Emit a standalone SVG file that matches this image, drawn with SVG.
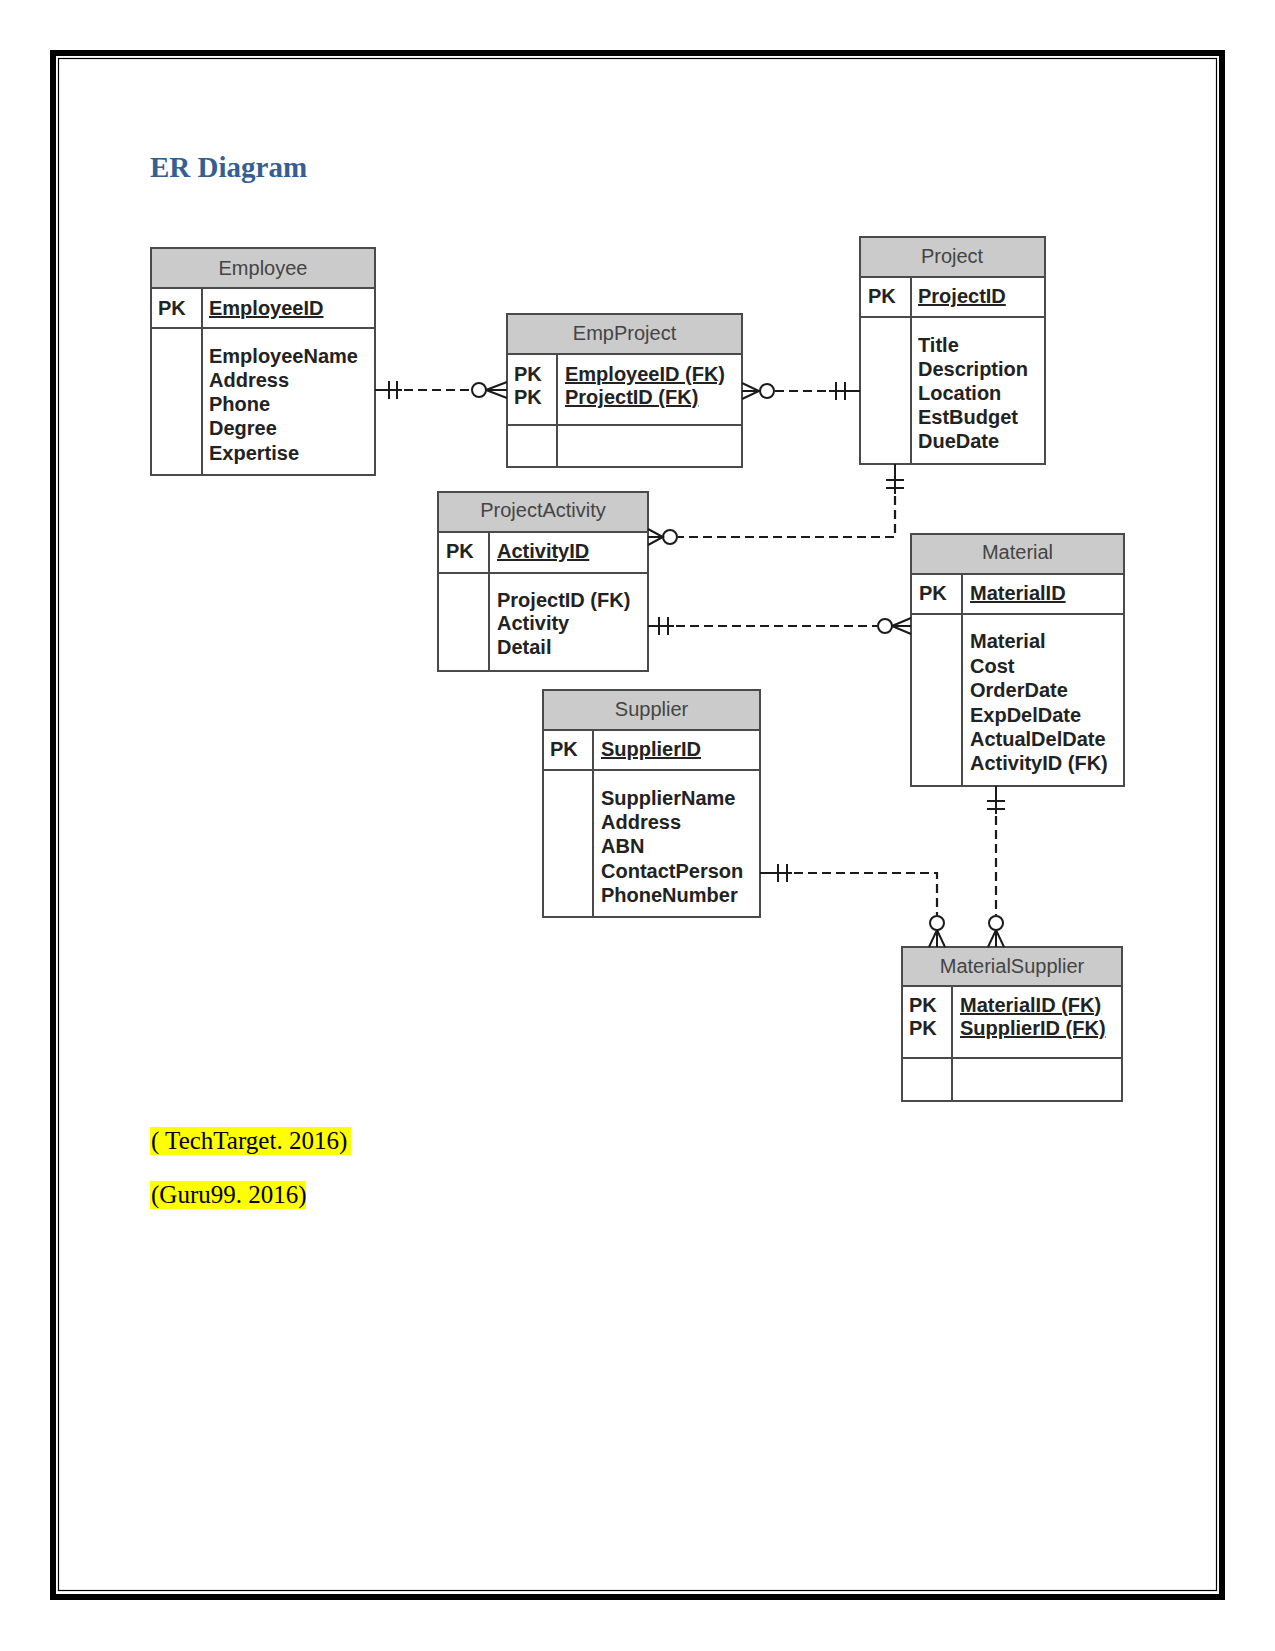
<svg xmlns="http://www.w3.org/2000/svg" width="1275" height="1651" viewBox="0 0 1275 1651">
<style>
.hdr{fill:#cbcbcb;stroke:none}
.box{fill:none;stroke:#4a4a4a;stroke-width:2}
.ln{stroke:#4a4a4a;stroke-width:2}
.ht{font-family:"Liberation Sans",Arial,sans-serif;font-size:20px;fill:#444;text-anchor:middle}
.bt{font-family:"Liberation Sans",Arial,sans-serif;font-size:20px;font-weight:bold;fill:#222}
.ul{text-decoration:underline}
.c{fill:none;stroke:#1a1a1a;stroke-width:2}
.d{fill:none;stroke:#1a1a1a;stroke-width:2.2;stroke-dasharray:9 5}
.cite{font-family:"Liberation Serif","Times New Roman",serif;font-size:25px;fill:#000}
</style>
<rect x="0" y="0" width="1275" height="1651" fill="#fff"/>
<rect x="53" y="53" width="1169" height="1544" fill="none" stroke="#000" stroke-width="6"/>
<rect x="58.5" y="58.5" width="1158" height="1532" fill="none" stroke="#000" stroke-width="1.2"/>
<text x="150" y="177" font-family="Liberation Serif,'Times New Roman',serif" font-size="29" font-weight="bold" fill="#365F91">ER Diagram</text>

<g id="employee">
<rect class="hdr" x="151" y="248" width="224" height="40"/>
<rect class="box" x="151" y="248" width="224" height="227"/>
<line class="ln" x1="151" y1="288" x2="375" y2="288"/>
<line class="ln" x1="151" y1="328" x2="375" y2="328"/>
<line class="ln" x1="202" y1="288" x2="202" y2="475"/>
<text class="ht" x="263" y="275">Employee</text>
<text class="bt" x="158" y="315">PK</text>
<text class="bt ul" x="209" y="315">EmployeeID</text>
<text class="bt" x="209" y="363">EmployeeName</text>
<text class="bt" x="209" y="387">Address</text>
<text class="bt" x="209" y="411">Phone</text>
<text class="bt" x="209" y="435">Degree</text>
<text class="bt" x="209" y="460">Expertise</text>
</g>

<g id="empproject">
<rect class="hdr" x="507" y="314" width="235" height="40"/>
<rect class="box" x="507" y="314" width="235" height="153"/>
<line class="ln" x1="507" y1="354" x2="742" y2="354"/>
<line class="ln" x1="507" y1="425" x2="742" y2="425"/>
<line class="ln" x1="557" y1="354" x2="557" y2="467"/>
<text class="ht" x="624.5" y="340">EmpProject</text>
<text class="bt" x="514" y="381">PK</text>
<text class="bt" x="514" y="404">PK</text>
<text class="bt ul" x="565" y="381">EmployeeID (FK)</text>
<text class="bt ul" x="565" y="404">ProjectID (FK)</text>
</g>

<g id="project">
<rect class="hdr" x="860" y="237" width="185" height="40"/>
<rect class="box" x="860" y="237" width="185" height="227"/>
<line class="ln" x1="860" y1="277" x2="1045" y2="277"/>
<line class="ln" x1="860" y1="317" x2="1045" y2="317"/>
<line class="ln" x1="911" y1="277" x2="911" y2="464"/>
<text class="ht" x="952" y="263">Project</text>
<text class="bt" x="868" y="303">PK</text>
<text class="bt ul" x="918" y="303">ProjectID</text>
<text class="bt" x="918" y="352">Title</text>
<text class="bt" x="918" y="376">Description</text>
<text class="bt" x="918" y="400">Location</text>
<text class="bt" x="918" y="424">EstBudget</text>
<text class="bt" x="918" y="448">DueDate</text>
</g>

<g id="projectactivity">
<rect class="hdr" x="438" y="492" width="210" height="40"/>
<rect class="box" x="438" y="492" width="210" height="179"/>
<line class="ln" x1="438" y1="532" x2="648" y2="532"/>
<line class="ln" x1="438" y1="573" x2="648" y2="573"/>
<line class="ln" x1="489" y1="532" x2="489" y2="671"/>
<text class="ht" x="543" y="517">ProjectActivity</text>
<text class="bt" x="446" y="558">PK</text>
<text class="bt ul" x="497" y="558">ActivityID</text>
<text class="bt" x="497" y="607">ProjectID (FK)</text>
<text class="bt" x="497" y="630">Activity</text>
<text class="bt" x="497" y="654">Detail</text>
</g>

<g id="material">
<rect class="hdr" x="911" y="534" width="213" height="40"/>
<rect class="box" x="911" y="534" width="213" height="252"/>
<line class="ln" x1="911" y1="574" x2="1124" y2="574"/>
<line class="ln" x1="911" y1="614" x2="1124" y2="614"/>
<line class="ln" x1="962" y1="574" x2="962" y2="786"/>
<text class="ht" x="1017.5" y="559">Material</text>
<text class="bt" x="919" y="600">PK</text>
<text class="bt ul" x="970" y="600">MaterialID</text>
<text class="bt" x="970" y="648">Material</text>
<text class="bt" x="970" y="673">Cost</text>
<text class="bt" x="970" y="697">OrderDate</text>
<text class="bt" x="970" y="722">ExpDelDate</text>
<text class="bt" x="970" y="746">ActualDelDate</text>
<text class="bt" x="970" y="770">ActivityID (FK)</text>
</g>

<g id="supplier">
<rect class="hdr" x="543" y="690" width="217" height="40"/>
<rect class="box" x="543" y="690" width="217" height="227"/>
<line class="ln" x1="543" y1="730" x2="760" y2="730"/>
<line class="ln" x1="543" y1="770" x2="760" y2="770"/>
<line class="ln" x1="593" y1="730" x2="593" y2="917"/>
<text class="ht" x="651.5" y="716">Supplier</text>
<text class="bt" x="550" y="756">PK</text>
<text class="bt ul" x="601" y="756">SupplierID</text>
<text class="bt" x="601" y="805">SupplierName</text>
<text class="bt" x="601" y="829">Address</text>
<text class="bt" x="601" y="853">ABN</text>
<text class="bt" x="601" y="878">ContactPerson</text>
<text class="bt" x="601" y="902">PhoneNumber</text>
</g>

<g id="materialsupplier">
<rect class="hdr" x="902" y="947" width="220" height="39"/>
<rect class="box" x="902" y="947" width="220" height="154"/>
<line class="ln" x1="902" y1="986" x2="1122" y2="986"/>
<line class="ln" x1="902" y1="1058" x2="1122" y2="1058"/>
<line class="ln" x1="952" y1="986" x2="952" y2="1101"/>
<text class="ht" x="1012" y="973">MaterialSupplier</text>
<text class="bt" x="909" y="1012">PK</text>
<text class="bt" x="909" y="1035">PK</text>
<text class="bt ul" x="960" y="1012">MaterialID (FK)</text>
<text class="bt ul" x="960" y="1035">SupplierID (FK)</text>
</g>

<g id="connectors">
<!-- Employee - EmpProject -->
<path class="c" d="M375,390 H402 M389,381 V399 M397,381 V399"/>
<path class="d" d="M404,390 H471"/>
<circle class="c" cx="479" cy="390" r="7"/>
<path class="c" d="M486,390 L507,382 M486,390 H507 M486,390 L507,398"/>
<!-- EmpProject - Project -->
<path class="c" d="M742,383 L759,391 L742,399 M742,391 H759"/>
<circle class="c" cx="767" cy="391" r="7"/>
<path class="d" d="M775,391 H828"/>
<path class="c" d="M829,391 H860 M836,382 V400 M845,382 V400"/>
<!-- Project - ProjectActivity -->
<path class="c" d="M895,464 V494 M886,480 H904 M886,488 H904"/>
<path class="d" d="M895,496 V537 H678"/>
<circle class="c" cx="670" cy="537" r="7"/>
<path class="c" d="M648,529 L663,537 L648,545 M648,537 H663"/>
<!-- ProjectActivity - Material -->
<path class="c" d="M648,626 H674 M659,617 V635 M668,617 V635"/>
<path class="d" d="M676,626 H877"/>
<circle class="c" cx="885" cy="626" r="7"/>
<path class="c" d="M892,626 L911,618 M892,626 H911 M892,626 L911,634"/>
<!-- Material - MaterialSupplier -->
<path class="c" d="M996,786 V814 M987,801 H1005 M987,809 H1005"/>
<path class="d" d="M996,816 V915"/>
<circle class="c" cx="996" cy="923" r="7"/>
<path class="c" d="M996,930 L988,947 M996,930 V947 M996,930 L1004,947"/>
<!-- Supplier - MaterialSupplier -->
<path class="c" d="M760,873 H792 M778,864 V882 M787,864 V882"/>
<path class="d" d="M794,873 H937 V915"/>
<circle class="c" cx="937" cy="923" r="7"/>
<path class="c" d="M937,930 L929,947 M937,930 V947 M937,930 L945,947"/>
</g>

<rect x="150" y="1127" width="201" height="28" fill="#ffff00"/>
<text class="cite" x="151" y="1149">( TechTarget. 2016)</text>
<rect x="150" y="1181" width="156" height="28" fill="#ffff00"/>
<text class="cite" x="151" y="1203">(Guru99. 2016)</text>
</svg>
